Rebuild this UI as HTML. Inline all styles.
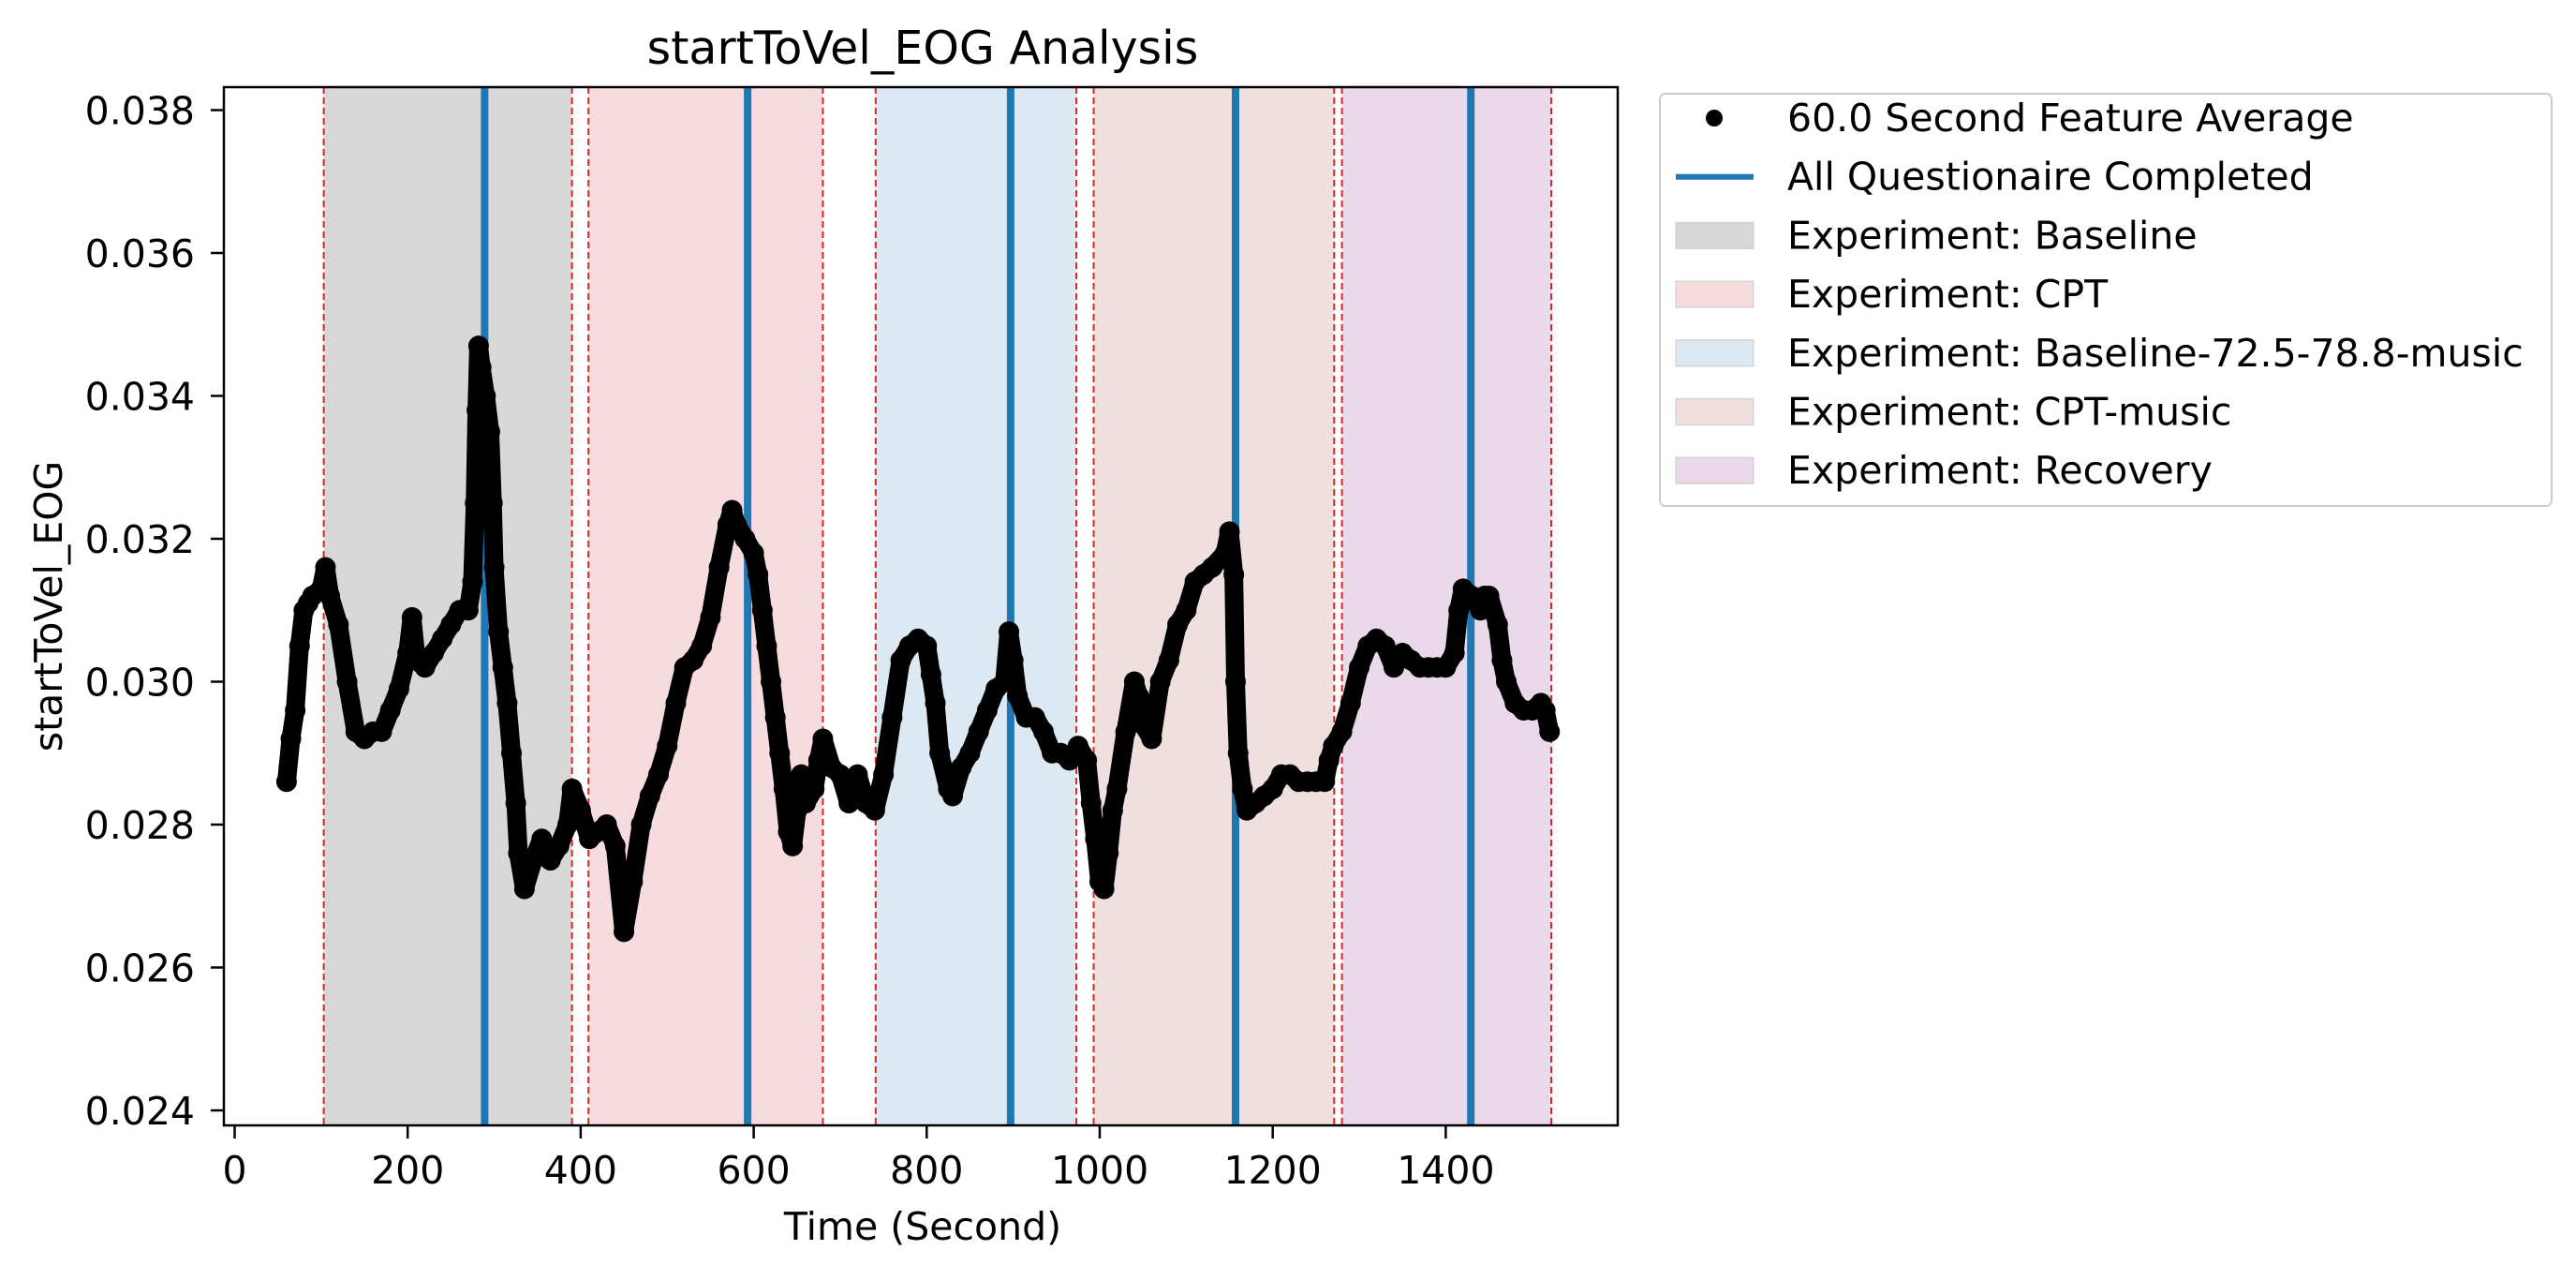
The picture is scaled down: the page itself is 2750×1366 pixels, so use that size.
<!DOCTYPE html>
<html><head><meta charset="utf-8"><style>
html,body{margin:0;padding:0;background:#fff;}
svg text{font-family:"DejaVu Sans","Liberation Sans",sans-serif;fill:#000;}
</style></head><body>
<svg id="chart" width="2750" height="1361" viewBox="0 0 2750 1361" xmlns="http://www.w3.org/2000/svg">
<rect width="2750" height="1361" fill="#fff"/>
<g id="regions"></g>
<g id="vlines"></g>
<g id="points"></g>
<rect x="239" y="93" width="1488" height="1108" fill="none" stroke="#000" stroke-width="2.5"/>
<g id="xticks"></g>
<g id="yticks"></g>
<text x="985" y="68" font-size="49" text-anchor="middle">startToVel_EOG Analysis</text>
<text x="985" y="1323" font-size="41" text-anchor="middle">Time (Second)</text>
<text transform="translate(66,647) rotate(-90)" font-size="41" text-anchor="middle">startToVel_EOG</text>
<g id="legend"></g>
</svg>
<script>
const regionNames = ["Baseline","CPT","Baseline-72.5-78.8-music","CPT-music","Recovery"];
const regionStarts = [103, 409, 741, 993, 1280];
const regionEnds = [390, 680, 973, 1271, 1522];
const regionColors = ["#d8d8d8","#f7dcdf","#dce8f2","#f0dfdf","#ead9ea"];
const questionTimes = [289, 593, 897, 1157, 1429];
const xTicks = [0,200,400,600,800,1000,1200,1400];
const yTicks = [0.024,0.026,0.028,0.030,0.032,0.034,0.036,0.038];
const times = [60,65,70,75,80,85,90,100,105,110,120,130,140,150,160,170,180,190,200,205,210,220,230,240,250,260,270,275,278,280,282,285,290,295,298,300,305,310,315,320,325,328,335,345,355,365,375,385,390,400,410,420,430,440,450,460,470,480,490,500,510,520,530,540,550,560,570,575,580,590,600,605,610,615,620,625,630,635,640,645,650,655,660,670,675,680,690,700,710,720,730,740,750,760,770,780,790,800,805,810,815,825,830,840,850,860,870,880,890,895,900,905,915,925,935,945,955,965,975,985,990,995,1000,1005,1010,1015,1020,1030,1040,1045,1050,1060,1070,1080,1090,1100,1110,1120,1130,1145,1150,1155,1157,1160,1165,1170,1180,1190,1200,1210,1220,1230,1240,1250,1260,1265,1270,1280,1290,1300,1310,1320,1330,1340,1350,1360,1370,1380,1390,1400,1410,1415,1420,1430,1440,1445,1450,1460,1465,1470,1480,1490,1500,1510,1515,1520];
const values = [0.0286,0.0292,0.0296,0.0305,0.0310,0.0311,0.0312,0.0313,0.0316,0.0312,0.0308,0.0300,0.0293,0.0292,0.0293,0.0293,0.0296,0.0299,0.0304,0.0309,0.0303,0.0302,0.0304,0.0306,0.0308,0.0310,0.0310,0.0314,0.0325,0.0338,0.0347,0.0344,0.0340,0.0335,0.0325,0.0316,0.0307,0.0302,0.0297,0.0290,0.0283,0.0276,0.0271,0.0275,0.0278,0.0275,0.0277,0.0280,0.0285,0.0282,0.0278,0.0279,0.0280,0.0277,0.0265,0.0272,0.0280,0.0284,0.0287,0.0291,0.0297,0.0302,0.0303,0.0305,0.0309,0.0316,0.0322,0.0324,0.0322,0.0320,0.0318,0.0315,0.0310,0.0305,0.0300,0.0295,0.0290,0.0285,0.0279,0.0277,0.0282,0.0287,0.0283,0.0285,0.0289,0.0292,0.0288,0.0287,0.0283,0.0287,0.0283,0.0282,0.0287,0.0295,0.0303,0.0305,0.0306,0.0305,0.0301,0.0297,0.0290,0.0285,0.0284,0.0288,0.0290,0.0293,0.0296,0.0299,0.0300,0.0307,0.0303,0.0298,0.0295,0.0295,0.0293,0.0290,0.0290,0.0289,0.0291,0.0289,0.0283,0.0278,0.0272,0.0271,0.0276,0.0282,0.0285,0.0293,0.0300,0.0298,0.0294,0.0292,0.0300,0.0303,0.0308,0.0310,0.0314,0.0315,0.0316,0.0318,0.0321,0.0315,0.0300,0.0290,0.0285,0.0282,0.0283,0.0284,0.0285,0.0287,0.0287,0.0286,0.0286,0.0286,0.0286,0.0289,0.0291,0.0293,0.0297,0.0302,0.0305,0.0306,0.0305,0.0302,0.0304,0.0303,0.0302,0.0302,0.0302,0.0302,0.0304,0.0310,0.0313,0.0312,0.0310,0.0312,0.0312,0.0308,0.0303,0.0300,0.0297,0.0296,0.0296,0.0297,0.0296,0.0293];

const NS = "http://www.w3.org/2000/svg";
const X0 = 250.5, XS = 0.9235;
const Y0 = 117.5, YS = 76250;
function xs(t){ return X0 + t*XS; }
function ys(v){ return Y0 + (0.038 - v)*YS; }
function mk(tag, attrs, parent){
  const e = document.createElementNS(NS, tag);
  for (const k in attrs) e.setAttribute(k, attrs[k]);
  parent.appendChild(e); return e;
}
const gR = document.getElementById('regions');
regionNames.forEach((n,i)=>{
  const r = mk('rect',{x:xs(regionStarts[i]),y:93,width:xs(regionEnds[i])-xs(regionStarts[i]),height:1108,fill:regionColors[i]},gR);
  
  
  [regionStarts[i], regionEnds[i]].forEach(t=>{
    const l = mk('line',{x1:xs(t),x2:xs(t),y1:93,y2:1201,stroke:'#d62728',"stroke-width":2,"stroke-dasharray":"7,4"},gR);
    
    
  });
});
const gV = document.getElementById('vlines');
questionTimes.forEach(t=>{
  const l = mk('line',{x1:xs(t),x2:xs(t),y1:93,y2:1201,stroke:'#1f77b4',"stroke-width":8},gV);
  
  
});
const gP = document.getElementById('points');
const path = mk('polyline',{points:times.map((t,i)=>xs(t)+','+ys(values[i])).join(' '),fill:'none',stroke:'#000',"stroke-width":20,"stroke-linejoin":"round","stroke-linecap":"round"},gP);


times.forEach((t,i)=>{
  const c = mk('circle',{cx:xs(t),cy:ys(values[i]),r:11,fill:'#000'},gP);
  
  
});
const gX = document.getElementById('xticks');
xTicks.forEach(t=>{
  const l = mk('line',{x1:xs(t),x2:xs(t),y1:1201,y2:1215,stroke:'#000',"stroke-width":2.5},gX);
  
  
  const tx = mk('text',{x:xs(t),y:1263,"font-size":41,"text-anchor":"middle"},gX);
  tx.textContent = t;
  
  
});
const gY = document.getElementById('yticks');
yTicks.forEach(v=>{
  const l = mk('line',{x1:225,x2:239,y1:ys(v),y2:ys(v),stroke:'#000',"stroke-width":2.5},gY);
  
  
  const tx = mk('text',{x:208,y:ys(v)+15,"font-size":41,"text-anchor":"end"},gY);
  tx.textContent = v.toFixed(3);
  
  
});
const gL = document.getElementById('legend');
const box = mk('rect',{x:1772,y:100,width:952,height:440,rx:6,fill:'#fff',stroke:'#ccc',"stroke-width":2},gL);


const legLabels = ["60.0 Second Feature Average","All Questionaire Completed"].concat(regionNames.map(n=>"Experiment: "+n));
legLabels.forEach((lab,i)=>{
  const y = 126 + i*62.7;
  if (i===0){
    const c = mk('circle',{cx:1830,cy:y,r:9,fill:'#000'},gL);
    
    
  } else if (i===1){
    const l = mk('line',{x1:1789,x2:1872,y1:y,y2:y,stroke:'#1f77b4',"stroke-width":6},gL);
    
    
  } else {
    const r = mk('rect',{x:1789,y:y-14,width:83,height:28,fill:regionColors[i-2],stroke:'#bbb',"stroke-width":1.5,"stroke-opacity":0.5},gL);
    
    
  }
  const tx = mk('text',{x:1908,y:y+14,"font-size":41},gL);
  tx.textContent = lab;
  
  
});
</script>
</body></html>
